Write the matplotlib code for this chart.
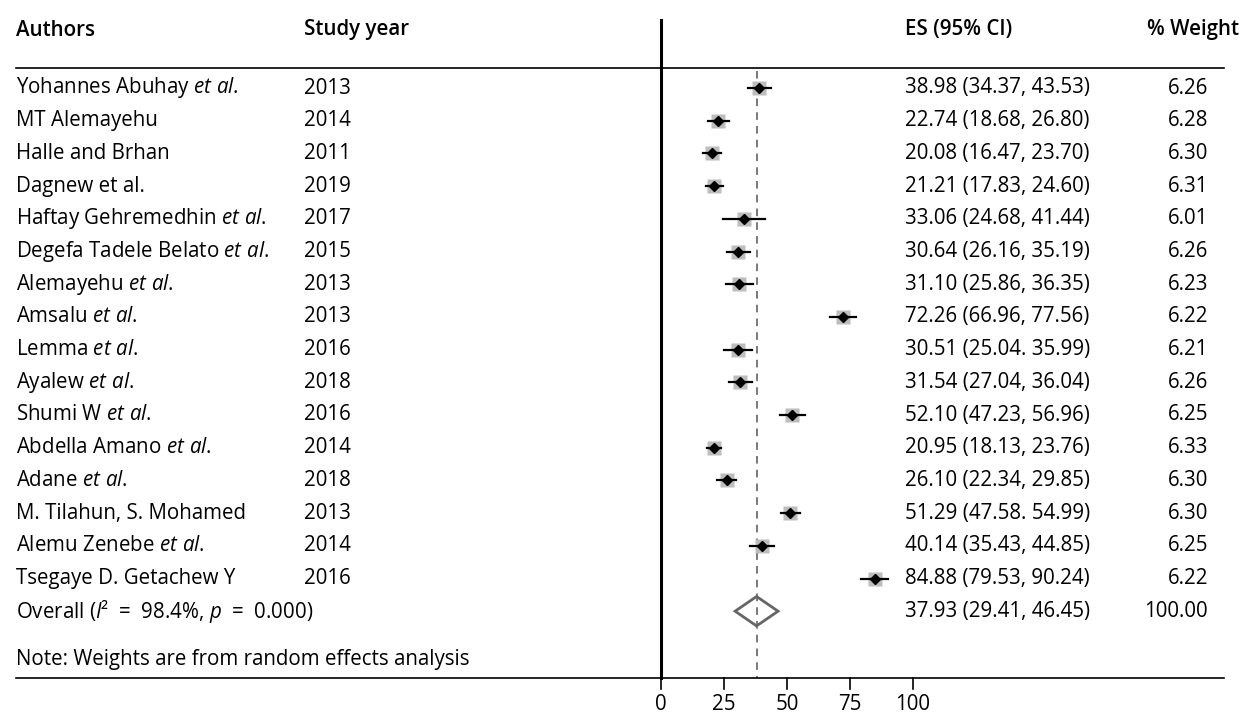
import matplotlib
matplotlib.use("Agg")
import matplotlib.pyplot as plt
from matplotlib.transforms import blended_transform_factory
from matplotlib.patches import Polygon

plt.rcParams['font.family'] = ['Open Sans', 'DejaVu Sans']
plt.rcParams['mathtext.fontset'] = 'custom'
plt.rcParams['mathtext.rm'] = 'Open Sans'
plt.rcParams['mathtext.it'] = 'Open Sans:italic'

# study rows
authors = [r"Yohannes Abuhay $et\ al$.", "MT Alemayehu", "Halle and Brhan", "Dagnew et al.",
           r"Haftay Gehremedhin $et\ al$.", r"Degefa Tadele Belato $et\ al$.",
           r"Alemayehu $et\ al$.", r"Amsalu $et\ al$.", r"Lemma $et\ al$.", r"Ayalew $et\ al$.",
           r"Shumi W $et\ al$.", r"Abdella Amano $et\ al$.", r"Adane $et\ al$.",
           "M. Tilahun, S. Mohamed", r"Alemu Zenebe $et\ al$.", "Tsegaye D. Getachew Y"]
years = [2013, 2014, 2011, 2019, 2017, 2015, 2013, 2013, 2016, 2018, 2016, 2014, 2018, 2013, 2014, 2016]
es = [38.98, 22.74, 20.08, 21.21, 33.06, 30.64, 31.10, 72.26, 30.51, 31.54, 52.10, 20.95, 26.10, 51.29, 40.14, 84.88]
lo = [34.37, 18.68, 16.47, 17.83, 24.68, 26.16, 25.86, 66.96, 25.04, 27.04, 47.23, 18.13, 22.34, 47.58, 35.43, 79.53]
hi = [43.53, 26.80, 23.70, 24.60, 41.44, 35.19, 36.35, 77.56, 35.99, 36.04, 56.96, 23.76, 29.85, 54.99, 44.85, 90.24]
sep = [",", ",", ",", ",", ",", ",", ",", ",", ".", ",", ",", ",", ",", ".", ",", ","]
weights = [6.26, 6.28, 6.30, 6.31, 6.01, 6.26, 6.23, 6.22, 6.21, 6.26, 6.25, 6.33, 6.30, 6.30, 6.25, 6.22]

# pooled estimate
overall_es, overall_lo, overall_hi, overall_w = 37.93, 29.41, 46.45, 100.00
overall_label = r"Overall ($I$²  =  98.4%, $p$  =  0.000)"
note = "Note: Weights are from random effects analysis"
xticks = [0, 25, 50, 75, 100]

W, H = 1242, 715
fig = plt.figure(figsize=(W / 100, H / 100), dpi=100)
ax = fig.add_axes([0, 0, 1, 1])
ax.axis('off')

# x in data units (0 at px 661, 2.52 px per unit), y in row units (row 0 at px 88)
x0, sx = 661, 2.52
y0, sy = 88, 32.7
ax.set_xlim(-x0 / sx, (W - x0) / sx)
ax.set_ylim((H - y0) / sy, -y0 / sy)

tr = blended_transform_factory(ax.transAxes, ax.transData)
def fx(px):
    return px / W

fs = 14.8
n = len(es)
y_head = (30 - y0) / sy
y_line = (68 - y0) / sy
y_note = (659 - y0) / sy
y_axis = (678 - y0) / sy

# headers
ax.text(fx(16), y_head, "Authors", transform=tr, fontsize=fs, fontweight='semibold', va='center')
ax.text(fx(304), y_head, "Study year", transform=tr, fontsize=fs, fontweight='semibold', va='center')
ax.text(fx(905), y_head, "ES (95% CI)", transform=tr, fontsize=fs, fontweight='semibold', va='center')
ax.text(fx(1239), y_head, "% Weight", transform=tr, fontsize=fs, fontweight='semibold', va='center', ha='right')
ax.plot([fx(16), fx(1224)], [y_line, y_line], transform=tr, color='black', lw=1.2)

# rows of text
for i in range(n):
    ax.text(fx(16), i, authors[i], transform=tr, fontsize=fs, va='center')
    ax.text(fx(304), i, str(years[i]), transform=tr, fontsize=fs, va='center')
    ax.text(fx(905), i, f"{es[i]:.2f} ({lo[i]:.2f}{sep[i]} {hi[i]:.2f})", transform=tr, fontsize=fs, va='center')
    ax.text(fx(1208), i, f"{weights[i]:.2f}", transform=tr, fontsize=fs, va='center', ha='right')

ax.text(fx(16), n, overall_label, transform=tr, fontsize=fs, va='center')
ax.text(fx(905), n, f"{overall_es:.2f} ({overall_lo:.2f}, {overall_hi:.2f})", transform=tr, fontsize=fs, va='center')
ax.text(fx(1208), n, f"{overall_w:.2f}", transform=tr, fontsize=fs, va='center', ha='right')
ax.text(fx(16), y_note, note, transform=tr, fontsize=fs, va='center')

# dashed line at pooled estimate and solid line at zero
ax.plot([overall_es, overall_es], [y_line + 0.1, y_axis], color='#555555', lw=1.1, ls=(0, (5, 4)))
ax.plot([0, 0], [(20 - y0) / sy, y_axis], color='black', lw=2.2)

# study markers: weight box, CI line, point estimate
for i in range(n):
    ax.plot([lo[i], hi[i]], [i, i], color='black', lw=1.6, zorder=3)
    ax.plot(es[i], i, marker='s', color='#bdbdbd', ms=9.8 * (weights[i] / 6.26) ** 0.5,
            mec='none', zorder=2)
    ax.plot(es[i], i, marker='D', color='black', ms=4.8, zorder=4)

# pooled diamond
dh = 0.45
ax.add_patch(Polygon([[overall_lo, n], [overall_es, n - dh], [overall_hi, n], [overall_es, n + dh]],
                     closed=True, fill=False, edgecolor='#666666', lw=2, zorder=3))

# bottom axis
ax.plot([fx(16), fx(1224)], [y_axis, y_axis], transform=tr, color='black', lw=1.2)
tick_len = 11 / sy
for t in xticks:
    ax.plot([t, t], [y_axis, y_axis + tick_len], color='black', lw=1.2)
    ax.text(t, (704 - y0) / sy, str(t), fontsize=fs, ha='center', va='center')

fig.savefig("out.png", dpi=100)
